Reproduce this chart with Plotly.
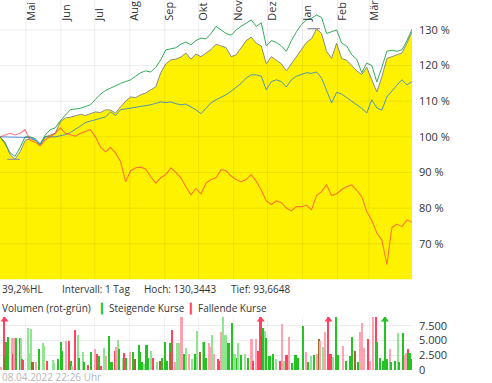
import plotly.graph_objects as go
import pandas as pd

# ---------------- data ----------------
start_date = "2021-04-08"
end_date = "2022-04-08"
dates = pd.date_range(start_date, end_date, periods=83)

stock = [100, 98.5, 95, 93.7, 95.8, 99, 99.5, 99, 97.8, 100,
         100.5, 101, 104.2, 105.3, 105.5, 106, 106.3, 106, 106.5, 107,
         106.8, 107.6, 107.5, 106.7, 108.4, 110, 111.2, 111, 111.8, 112.3,
         113.2, 114, 118, 120.5, 121.6, 121.8, 122.4, 123.5, 121.8, 123.2,
         122.5, 123.5, 124.5, 126, 125.5, 125, 122.5, 123, 125, 127,
         128, 126.3, 125.5, 120.5, 122.5, 121.6, 120.5, 118.5, 120.5, 122.5,
         124.4, 126.5, 127.5, 130.3, 129, 124, 122, 126.3, 122, 121.5,
         120, 118.5, 117.5, 119.5, 116, 112.6, 116.8, 122, 122.5, 123,
         123.5, 126.3, 129.5]

peer_green = [100, 98, 95.5, 94.5, 97, 100, 100, 99.5, 98, 100.5,
              102, 102.5, 104.5, 106, 107.6, 107.8, 108, 108.5, 109, 110.5,
              112, 113, 113.7, 114.2, 115, 115.5, 116, 117, 118, 118.5,
              118.2, 119.5, 121.6, 124.4, 124.8, 125, 126, 126.6, 125.8, 127,
              127.7, 127.5, 129, 131, 130, 129, 128.5, 130, 131, 132,
              132.8, 131, 132, 125.5, 127, 126.5, 125.5, 124, 127, 129.5,
              131.5, 132.8, 133.3, 134.2, 133.5, 129, 129.5, 130, 126.3, 125.5,
              123, 121.8, 118, 120.7, 120, 115.4, 119.5, 124, 124.3, 124,
              124.4, 127, 130.2]

index_blue = [100, 100, 100, 100, 100, 100, 99.8, 99.2, 97.8, 100,
              100, 100, 100.3, 100.6, 101.2, 102, 103, 104, 104.4, 104.8,
              105.2, 105.6, 107, 106, 107.6, 107.8, 108.1, 108.2, 108.4, 108.7,
              109, 109.4, 109.8, 109.6, 109.8, 109.3, 109, 109.2, 108.4, 107.6,
              106.5, 108, 109.5, 110.4, 111, 111.8, 112.8, 114, 115, 116.5,
              117.4, 117.4, 117, 113.2, 115.5, 116, 115.5, 114, 116, 117,
              117.6, 118, 117.8, 118.2, 116.5, 113.2, 109.5, 112.5, 112, 111,
              110, 109, 108, 106.7, 110.4, 108.1, 107.5, 111.2, 113, 114.5,
              116, 114.6, 115.5]

peer_red = [100, 100.5, 101, 100.5, 101, 102, 99, 98.5, 97.5, 99.2,
            100, 101, 102.5, 101, 100.6, 100.2, 101, 101.5, 102, 100,
            97.2, 95.8, 97, 95.5, 93, 87.4, 90.5, 91.3, 91.5, 91,
            88.8, 87, 88.5, 89.4, 91.3, 90, 88.5, 86, 83.7, 85.5,
            84, 87, 88, 88.5, 90.8, 90.5, 89, 88, 87.4, 88,
            89.4, 87.5, 85, 82, 81, 82, 81.5, 80, 79.2, 80.4,
            80.4, 80.8, 79.5, 83.5, 84.6, 86.5, 83.5, 84, 85.2, 86,
            86.5, 85, 83.2, 79, 76.5, 73, 71.1, 64.1, 74.5, 75.5,
            74.8, 76.7, 76]

high_date, high_value = "2022-01-11", 130.3443
low_date, low_value = "2021-04-20", 93.6648

month_ticks = ["2021-05-01", "2021-06-01", "2021-07-01", "2021-08-01", "2021-09-01",
               "2021-10-01", "2021-11-01", "2021-12-01", "2022-01-01", "2022-02-01",
               "2022-03-01"]
month_labels = ["Mai", "Jun", "Jul", "Aug", "Sep", "Okt", "Nov", "Dez", "Jan", "Feb", "Mär"]
pct_ticks = [70, 80, 90, 100, 110, 120, 130]
vol_ticks = [0, 2500, 5000, 7500]

# volume: day offset from start, volume, kind (G/g rising, R/r falling, B overlap)
vol_day = [1, 4, 5, 6, 7, 11, 12, 13, 14, 18, 19, 20, 21, 25, 26, 28, 29, 32, 35, 38,
           39, 42, 47, 48, 52, 54, 55, 59, 61, 63, 64, 67, 69, 70, 74, 75, 78, 81, 84, 86,
           88, 90, 92, 94, 97, 99, 102, 103, 105, 106, 109, 110, 112, 115, 118, 120, 123, 124, 126, 128,
           130, 131, 134, 136, 139, 142, 144, 146, 148, 151, 152, 153, 155, 157, 159, 161, 163, 165, 168, 170,
           173, 175, 177, 180, 181, 183, 185, 186, 188, 190, 193, 195, 196, 198, 200, 202, 203, 206, 208, 210,
           211, 214, 217, 220, 223, 224, 227, 229, 231, 232, 233, 235, 236, 239, 242, 245, 248, 250, 252, 254,
           256, 259, 262, 264, 269, 271, 273, 276, 278, 281, 283, 284, 286, 288, 291, 293, 295, 298, 300, 304,
           307, 310, 312, 315, 317, 319, 321, 323, 326, 328, 331, 333, 334, 337, 340, 341, 343, 346, 347, 350,
           353, 354, 357, 359, 360, 362, 363, 364]
vol_value = [500, 9800, 2400, 4800, 5600, 5500, 2700, 5500, 5400, 5400, 5400, 1800, 1700, 7100, 2900, 6900, 1300, 1300, 3600, 4500,
             4000, 1600, 1700, 1100, 1900, 4800, 3300, 4900, 4900, 1600, 700, 6800, 5900, 2100, 3000, 1300, 800, 3000, 3500, 2700,
             2400, 700, 3800, 2400, 5800, 1300, 3300, 3900, 5100, 3600, 2100, 2800, 2100, 3000, 3000, 1800, 4200, 3000, 1300, 1000,
             4200, 2100, 3300, 2100, 1300, 1600, 2100, 4800, 1600, 4500, 3100, 6800, 1300, 4500, 4500, 9000, 2700, 3800, 2700, 1900,
             2700, 6600, 3000, 4800, 4800, 2100, 4500, 3900, 5900, 2700, 1800, 1500, 6500, 9000, 5900, 4500, 4500, 8000, 2700, 2100,
             4500, 2500, 2700, 2000, 5300, 1500, 5300, 3300, 9800, 6000, 7200, 6600, 5400, 2400, 2700, 1900, 1500, 7800, 1500, 2500,
             5600, 1200, 2600, 2100, 7400, 3100, 1300, 2300, 2500, 2700, 5300, 5000, 3900, 6400, 9800, 2700, 2200, 9000, 2500, 4000,
             1600, 2300, 5600, 3300, 1400, 6500, 8000, 3800, 5300, 1500, 9000, 9000, 4700, 2100, 1500, 9800, 1800, 3500, 1300, 1500,
             6200, 1300, 6200, 2500, 2800, 3500, 2800, 1800]
vol_kind = list("rRBGGrRrGGgGRgggBrGg"
                "gRggGGGrRGrRgGgGRGrR"
                "GRgrGGRrgGgRGrGBGGGg"
                "GGgRgBGGGGBRrggrGgrg"
                "GgBgGGrrgrRRrggGGGgG"
                "gGgGrRrRRBGgGGGgRrgR"
                "rGGGGrGgGrBrgrRRgGGr"
                "GGGBGrrrRrrRGGGGGrGG"
                "gGGrrRGG")
arrow_days = [4, 231, 291, 341]
arrow_kind = ["R", "R", "R", "G"]

# ---------------- styling ----------------
kind_color = {"G": "#22c322", "g": "#90e690", "R": "#ff4262", "r": "#ffa3b0", "B": "#9c6a2c"}
FONT = "Open Sans"
TXT = "#333333"

vol_dates = pd.to_datetime(start_date) + pd.to_timedelta(vol_day, unit="D")
arrow_dates = pd.to_datetime(start_date) + pd.to_timedelta(arrow_days, unit="D")

fig = go.Figure()

fig.add_trace(go.Scatter(x=dates, y=stock, mode="lines", fill="tozeroy",
                         fillcolor="#fff200", line=dict(color="#8a8a8a", width=1),
                         xaxis="x", yaxis="y", hoverinfo="skip"))
fig.add_trace(go.Scatter(x=dates, y=peer_green, mode="lines",
                         line=dict(color="rgba(30,165,70,0.9)", width=1), xaxis="x", yaxis="y"))
fig.add_trace(go.Scatter(x=dates, y=index_blue, mode="lines",
                         line=dict(color="rgba(40,125,215,0.8)", width=1), xaxis="x", yaxis="y"))
fig.add_trace(go.Scatter(x=dates, y=peer_red, mode="lines",
                         line=dict(color="rgba(255,60,80,0.68)", width=1.1), xaxis="x", yaxis="y"))
fig.add_trace(go.Scatter(x=[low_date, high_date], y=[low_value, high_value], mode="markers",
                         marker=dict(symbol="line-ew", size=9, line=dict(color="#999999", width=1.2)),
                         xaxis="x", yaxis="y"))

fig.add_trace(go.Bar(x=vol_dates, y=vol_value,
                     marker=dict(color=[kind_color[k] for k in vol_kind], line=dict(width=0)),
                     width=1.4 * 86400000, xaxis="x2", yaxis="y2"))
fig.add_trace(go.Scatter(x=arrow_dates, y=[8550] * len(arrow_dates), mode="markers",
                         marker=dict(symbol="triangle-up", size=7,
                                     color=[kind_color[k] for k in arrow_kind]),
                         xaxis="x2", yaxis="y2"))

shapes = []
for m in month_ticks:
    shapes.append(dict(type="line", xref="x", yref="y domain", x0=m, x1=m, y0=0, y1=1,
                       line=dict(color="rgba(0,0,0,0.07)", width=1), layer="above"))
for p in pct_ticks:
    shapes.append(dict(type="line", xref="x domain", yref="y", x0=0, x1=1, y0=p, y1=p,
                       line=dict(color="rgba(0,0,0,0.07)", width=1), layer="above"))

annotations = [
    dict(text="39,2%HL", x=0, y=0.219),
    dict(text="Intervall: 1 Tag", x=0.146, y=0.219),
    dict(text="Hoch: 130,3443", x=0.345, y=0.219),
    dict(text="Tief: 93,6648", x=0.556, y=0.219),
    dict(text="Volumen (rot-grün)", x=0, y=0.168),
    dict(text='<span style="color:#22c322">▎</span>Steigende Kurse', x=0.238, y=0.168),
    dict(text='<span style="color:#ff4262">▎</span>Fallende Kurse', x=0.455, y=0.168),
]
for a in annotations:
    a.update(xref="paper", yref="paper", xanchor="left", yanchor="middle", showarrow=False,
             font=dict(family=FONT, size=10, color=TXT))
annotations.append(dict(text="08.04.2022 22:26 Uhr", x=0, y=-0.02, xref="paper", yref="paper",
                        xanchor="left", yanchor="middle", showarrow=False,
                        font=dict(family=FONT, size=10, color="#b5b5b5")))

fig.update_layout(
    width=492, height=383,
    margin=dict(l=0, r=80, t=0, b=13, autoexpand=False),
    paper_bgcolor="white", plot_bgcolor="white",
    showlegend=False, separators=",.",
    font=dict(family=FONT, size=11, color=TXT),
    bargap=0,
    xaxis=dict(domain=[0, 1], anchor="free", position=0.944, type="date",
               range=[start_date, end_date], automargin=False,
               side="top", tickvals=month_ticks, ticktext=month_labels, tickangle=-90,
               ticklabelstandoff=0, ticklabelshift=5, showgrid=False, zeroline=False,
               ticks="", showline=False, tickfont=dict(size=11, color=TXT)),
    yaxis=dict(domain=[0.245, 1], anchor="x", side="right", range=[60, 138.4],
               tickvals=pct_ticks, ticktext=[f"{p} %" for p in pct_ticks], automargin=False,
               showgrid=False, zeroline=False, ticks="", ticklabelstandoff=6,
               tickfont=dict(size=11, color=TXT)),
    xaxis2=dict(domain=[0, 1], anchor="y2", type="date", range=[start_date, end_date],
                matches="x", showticklabels=False, tickvals=month_ticks, automargin=False,
                showgrid=True, gridcolor="#f0f0f0", zeroline=False, ticks=""),
    yaxis2=dict(domain=[0, 0.143], anchor="x2", side="right", range=[0, 9000],
                tickvals=vol_ticks, showgrid=True, gridcolor="#ececec", zeroline=False,
                ticks="", ticklabelstandoff=6, tickformat=",d", automargin=False,
                tickfont=dict(size=11, color=TXT)),
    shapes=shapes,
    annotations=annotations,
)

fig.write_html("out.html", config={"displayModeBar": False},
               post_script="document.body.style.margin='0';document.body.style.padding='0';")
